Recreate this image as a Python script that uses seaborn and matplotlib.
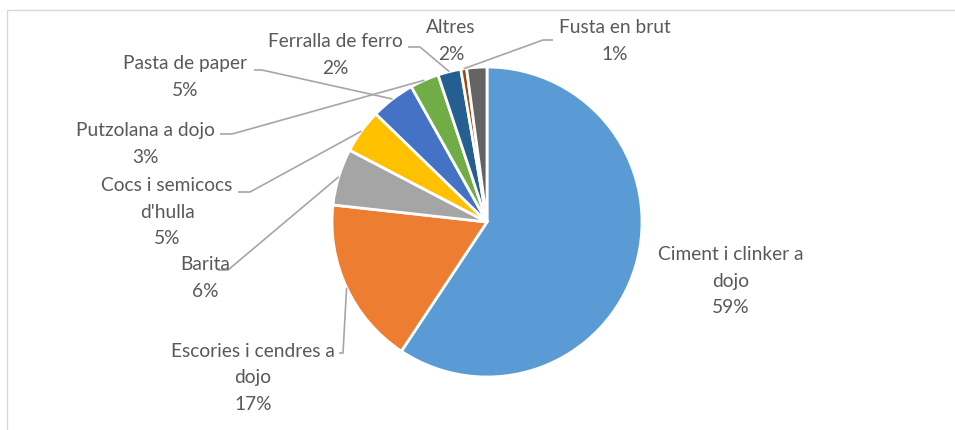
import matplotlib
matplotlib.use("Agg")
import matplotlib.pyplot as plt
import seaborn as sns
import numpy as np

# dades del gràfic (quota de cada producte, en %)
categories = ["Ciment i clinker a\ndojo", "Escories i cendres a\ndojo", "Barita",
              "Cocs i semicocs\nd'hulla", "Pasta de paper", "Putzolana a dojo",
              "Ferralla de ferro", "Fusta en brut", "Altres"]
values = [59.2, 17.4, 5.9, 4.6, 4.6, 3.0, 2.4, 0.6, 2.1]
colors = ["#5B9BD5", "#ED7D31", "#A5A5A5", "#FFC000", "#4472C4",
          "#70AD47", "#255E91", "#9E480E", "#636363"]

# posicio de les etiquetes en pixels (centre del text) i colze de la linia guia
label_pos = [(731, 281), (253, 378), (205, 278), (167, 212), (185, 77),
             (145, 144), (335, 55), (615, 41), (451, 41)]
leader = [None, [(339, 353), (343, 353)], [(218, 270), (228, 270)],
          [(238, 192), (250, 192)], [(254, 70), (262, 70)],
          [(220, 134), (232, 134)], [(408, 47), (420, 47)],
          [(553, 40), (543, 40)], None]

W, H = 955, 430
CX, CY, R = 487, 222, 155

sns.set_theme(style="white")
plt.rcParams['font.family'] = ['Lato', 'DejaVu Sans']

fig = plt.figure(figsize=(W / 100, H / 100), dpi=100)
fig.patch.set_facecolor("white")
ax = fig.add_axes([0, 0, 1, 1])


def px(x, y):
    # pixels (des de dalt a l'esquerra) -> coordenades del pastis
    return (x - CX) / R, (CY - y) / R


wedges, _ = ax.pie(values, colors=colors, startangle=90, counterclock=False,
                   wedgeprops=dict(edgecolor="white", linewidth=2))

ax.set_xlim(px(0, 0)[0], px(W, 0)[0])
ax.set_ylim(px(0, H)[1], px(0, 0)[1])
ax.set_aspect("auto")
ax.axis("off")

total = sum(values)
txt_color = "#595959"
for i, w in enumerate(wedges):
    pct = values[i] / total * 100
    lx, ly = px(*label_pos[i])
    ax.text(lx, ly, f"{categories[i]}\n{pct:.0f}%", ha="center", va="center",
            multialignment="center", fontsize=13.8, color=txt_color,
            linespacing=1.65)
    if leader[i] is not None:
        mid = np.deg2rad((w.theta1 + w.theta2) / 2)
        pts = [px(*p) for p in leader[i]] + [(np.cos(mid), np.sin(mid))]
        xs, ys = zip(*pts)
        ax.plot(xs, ys, color="#A6A6A6", linewidth=1.2, solid_capstyle="butt")

# marc del gràfic
fig.add_artist(plt.Rectangle((7 / W, -0.1), 1.2, 1.1 - 10 / H,
                             transform=fig.transFigure, fill=False,
                             edgecolor="#D9D9D9", linewidth=1))

fig.savefig("out.png", dpi=100)
